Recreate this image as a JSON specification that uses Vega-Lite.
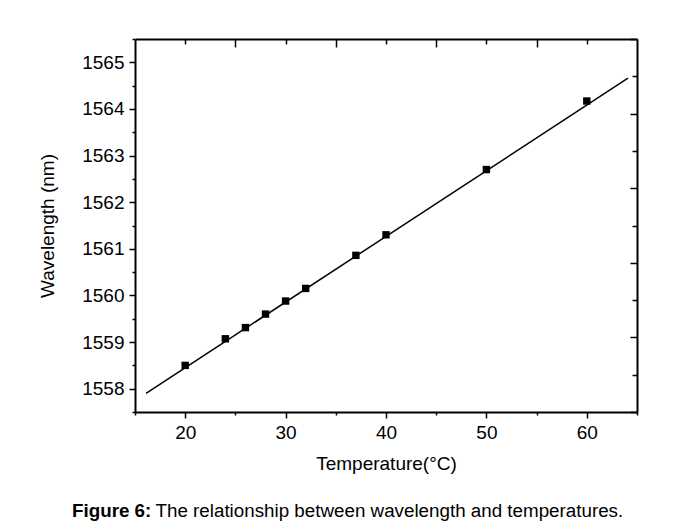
{
  "$schema": "https://vega.github.io/schema/vega-lite/v6.json",
  "width": 502,
  "height": 373,
  "autosize": "none",
  "padding": {"left": 135, "top": 39, "right": 40, "bottom": 118},
  "background": "white",
  "config": {
    "view": {"stroke": null},
    "font": "Liberation Sans",
    "axis": {
      "domainColor": "black",
      "domainWidth": 2,
      "tickColor": "black",
      "tickWidth": 1.5,
      "labelColor": "black",
      "labelFont": "Liberation Sans",
      "labelFontSize": 19,
      "titleFont": "Liberation Sans",
      "titleFontSize": 19,
      "titleFontWeight": "normal",
      "titleColor": "black",
      "grid": false
    }
  },
  "datasets": {
    "pts": [
      {"t": 20, "w": 1558.5},
      {"t": 24, "w": 1559.07},
      {"t": 26, "w": 1559.31},
      {"t": 28, "w": 1559.6},
      {"t": 30, "w": 1559.88},
      {"t": 32, "w": 1560.15},
      {"t": 37, "w": 1560.86},
      {"t": 40, "w": 1561.3},
      {"t": 50, "w": 1562.7},
      {"t": 60, "w": 1564.17}
    ],
    "fit": [
      {"t": 16.1, "w": 1557.9},
      {"t": 64.1, "w": 1564.66}
    ]
  },
  "title": {
    "text": "Figure 6:",
    "subtitle": "\u200d\u00a0\u00a0\u00a0\u00a0\u00a0\u00a0\u00a0\u00a0\u00a0\u00a0\u00a0\u00a0\u00a0\u00a0\u00a0\u00a0The relationship between wavelength and temperatures.",
    "orient": "bottom",
    "anchor": "start",
    "frame": "group",
    "dx": -63,
    "offset": 29,
    "font": "Liberation Sans",
    "fontSize": 18.8,
    "fontWeight": "bold",
    "color": "black",
    "subtitleFont": "Liberation Sans",
    "subtitleFontSize": 18.8,
    "subtitleFontWeight": "normal",
    "subtitleColor": "black",
    "subtitlePadding": -18.8
  },
  "layer": [
    {
      "data": {"name": "fit"},
      "mark": {"type": "line", "color": "black", "strokeWidth": 1.5},
      "encoding": {
        "x": {
          "field": "t", "type": "quantitative",
          "scale": {"domain": [15, 65], "nice": false, "zero": false},
          "axis": {"orient": "bottom", "values": [20, 30, 40, 50, 60], "tickSize": 6, "labelPadding": 5, "titlePadding": 12, "title": "Temperature(°C)", "domain": true}
        },
        "y": {
          "field": "w", "type": "quantitative",
          "scale": {"domain": [1557.5, 1565.5], "nice": false, "zero": false},
          "axis": {"orient": "left", "values": [1558, 1559, 1560, 1561, 1562, 1563, 1564, 1565], "tickSize": 6, "labelPadding": 5, "titlePadding": 24, "title": "Wavelength (nm)", "domain": true, "format": "d"}
        }
      }
    },
    {
      "data": {"name": "pts"},
      "mark": {"type": "point", "shape": "square", "filled": true, "color": "black", "size": 55, "opacity": 1},
      "encoding": {
        "x": {
          "field": "t", "type": "quantitative",
          "axis": {"orient": "bottom", "values": [15, 25, 35, 45, 55, 65], "tickSize": 3, "labels": false, "title": null, "domain": false}
        },
        "y": {
          "field": "w", "type": "quantitative",
          "axis": {"orient": "left", "values": [1557.5, 1558.5, 1559.5, 1560.5, 1561.5, 1562.5, 1563.5, 1564.5, 1565.5], "tickSize": 3, "labels": false, "title": null, "domain": false}
        }
      }
    },
    {
      "data": {"name": "fit"},
      "mark": {"type": "line", "opacity": 0},
      "encoding": {
        "x": {
          "field": "t", "type": "quantitative",
          "axis": {"orient": "top", "values": [25, 35, 45, 55], "tickSize": -8, "labels": false, "title": null, "domain": true}
        },
        "y": {
          "field": "w", "type": "quantitative",
          "axis": {"orient": "right", "values": [1557.5, 1559.1, 1560.7, 1562.3, 1563.9, 1565.5], "tickSize": -7, "labels": false, "title": null, "domain": true}
        }
      }
    },
    {
      "data": {"name": "fit"},
      "mark": {"type": "line", "opacity": 0},
      "encoding": {
        "x": {
          "field": "t", "type": "quantitative",
          "axis": {"orient": "top", "values": [20, 30, 40, 50, 60], "tickSize": -5, "labels": false, "title": null, "domain": false}
        },
        "y": {
          "field": "w", "type": "quantitative",
          "axis": {"orient": "right", "values": [1558.3, 1559.9, 1561.5, 1563.1, 1564.7], "tickSize": -5, "labels": false, "title": null, "domain": false}
        }
      }
    }
  ],
  "resolve": {"axis": {"x": "independent", "y": "independent"}}
}
